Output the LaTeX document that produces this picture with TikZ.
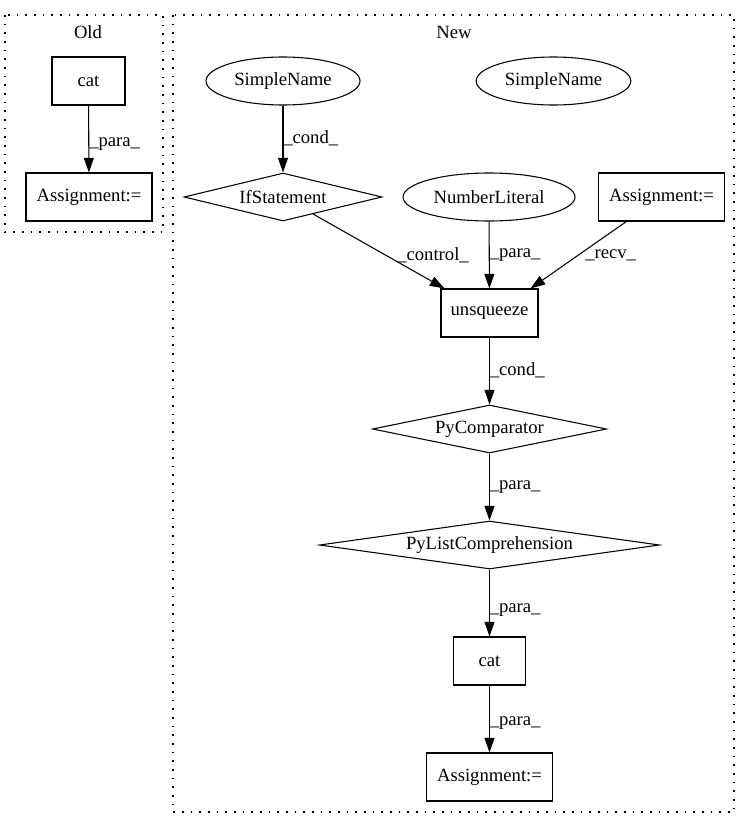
\documentclass[tikz,border=0pt]{standalone}
\usepackage{fontspec}
\setmainfont{Liberation Serif}
\newfontfamily\gvfont{Liberation Serif}
\usetikzlibrary{shapes.geometric,arrows.meta,calc}
\begin{document}
\begin{tikzpicture}[x=0.75pt,y=-0.75pt,
  every node/.style={font=\gvfont\fontsize{14pt}{16pt}\selectfont},
  boxnode/.style={draw,line width=0.8pt,rectangle,inner sep=0pt,minimum height=36pt},
  ellnode/.style={draw,line width=0.8pt,ellipse,inner sep=0pt,minimum height=36pt},
  dianode/.style={draw,line width=0.8pt,diamond,inner sep=0pt,minimum height=36pt},
  edge/.style={draw,line width=0.8pt,-{Triangle[length=11pt,width=7.5pt]}},
  lbl/.style={anchor=west,inner sep=0pt},
  clusterbox/.style={draw,line width=0.8pt,dash pattern=on 1.2pt off 5.3pt}]
\useasboundingbox (0,0) rectangle (751,828);
% clusters
\draw[clusterbox] (5,15) rectangle (163,232);
\node (toldt) at (88,32) {Old};
\draw[clusterbox] (173,15) rectangle (734,812);
\node (tnewt) at (454,32) {New};
% Old
\node[boxnode,minimum width=54.75pt] (ocat) at (88.5,81) {cat};
\node[boxnode,minimum width=94.5pt] (oasg) at (89,197) {Assignment:=};
\draw[edge] (ocat) -- (oasg);
\node[lbl] (l0) at (89,144) {\_para\_};
% New
\node[ellnode,minimum width=115.5pt] (sn1) at (283,81) {SimpleName};
\node[ellnode,minimum width=116pt] (sn2) at (553.5,81) {SimpleName};
\node[dianode,minimum width=148.5pt,label=center:IfStatement] (if) at (283,197) {};
\node[ellnode,minimum width=129pt] (num) at (489,197) {NumberLiteral};
\node[boxnode,minimum width=94.5pt] (asg) at (661.5,197) {Assignment:=};
\node[boxnode,minimum width=72.75pt] (unsq) at (489.5,313) {unsqueeze};
\node[dianode,minimum width=175.5pt,label=center:PyComparator] (pyc) at (489.5,429) {};
\node[dianode,minimum width=255pt,label=center:PyListComprehension] (pyl) at (489.5,545) {};
\node[boxnode,minimum width=54pt] (cat) at (489.5,661) {cat};
\node[boxnode,minimum width=94.5pt] (nasg) at (489.5,777) {Assignment:=};
% edges
\draw[edge] (sn1) -- (if);
\node[lbl] (l1) at (283,138) {\_cond\_};
\draw[edge] (if) -- ($(unsq.north west)+(4,0)$);
\node[lbl] (l2) at (397,255) {\_control\_};
\draw[edge] (num) -- (unsq);
\node[lbl] (l3) at (489.5,255) {\_para\_};
\draw[edge] (asg) -- ($(unsq.north east)+(-8,0)$);
\node[lbl] (l4) at (585,255) {\_recv\_};
\draw[edge] (unsq) -- (pyc);
\node[lbl] (l5) at (489.5,370) {\_cond\_};
\draw[edge] (pyc) -- (pyl);
\node[lbl] (l6) at (489.5,487) {\_para\_};
\draw[edge] (pyl) -- (cat);
\node[lbl] (l7) at (489.5,610) {\_para\_};
\draw[edge] (cat) -- (nasg);
\node[lbl] (l8) at (489.5,723) {\_para\_};
\end{tikzpicture}
\end{document}
